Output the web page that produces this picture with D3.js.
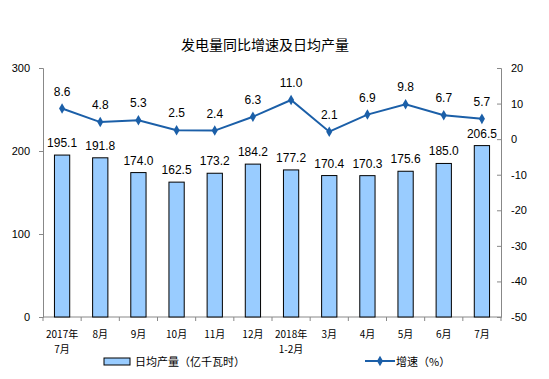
<!DOCTYPE html>
<html>
<head>
<meta charset="utf-8">
<script src="https://cdn.jsdelivr.net/npm/d3@7"></script>
<style>
  body { margin: 0; background: #fff; }
  text { font-family: Arial, "Liberation Sans", sans-serif; fill: #000; }
  .cjk { font-family: "Noto Sans CJK SC", sans-serif; }
</style>
</head>
<body>
<svg width="549" height="379"></svg>
<script>
var months = ['2017年|7月', '8月', '9月', '10月', '11月', '12月', '2018年|1-2月', '3月', '4月', '5月', '6月', '7月'];
var output = [195.1, 191.8, 174.0, 162.5, 173.2, 184.2, 177.2, 170.4, 170.3, 175.6, 185.0, 206.5];
var growth = [8.6, 4.8, 5.3, 2.5, 2.4, 6.3, 11.0, 2.1, 6.9, 9.8, 6.7, 5.7];
var leftTicks = [0, 100, 200, 300];
var rightTicks = [20, 10, 0, -10, -20, -30, -40, -50];

var svg = d3.select('svg');
var plotL = 43, plotR = 501, plotT = 68, plotB = 317;
var lineColor = '#1b5fa8';

var x = d3.scaleBand()
  .domain(d3.range(months.length))
  .range([plotL, plotR])
  .paddingInner(0.6)
  .paddingOuter(0.3);

var yL = d3.scaleLinear().domain([0, 300]).range([plotB, plotT]);
var yR = d3.scaleLinear().domain([-50, 20]).range([plotB, plotT]);

svg.append('text')
  .attr('class', 'cjk')
  .attr('x', 265)
  .attr('y', 50)
  .attr('text-anchor', 'middle')
  .style('font-size', '14px')
  .text('发电量同比增速及日均产量');

// axes
var gL = svg.append('g').attr('transform', 'translate(' + plotL + ',0)')
  .call(d3.axisLeft(yL).tickValues(leftTicks).tickSize(4).tickPadding(9)
    .tickFormat(function(d) { return String(d); }));
var gR = svg.append('g').attr('transform', 'translate(' + plotR + ',0)')
  .call(d3.axisRight(yR).tickValues(rightTicks).tickSize(-4).tickPadding(10)
    .tickFormat(function(d) { return String(d); }));
[gL, gR].forEach(function(g) {
  g.select('.domain').attr('stroke', '#888');
  g.selectAll('.tick line').attr('stroke', '#888');
  g.selectAll('.tick text').style('font-size', '11px').style('font-family', 'Arial, "Liberation Sans", sans-serif');
});

// x axis line with ticks between categories
var step = x.step();
svg.append('line')
  .attr('x1', plotL).attr('x2', plotR)
  .attr('y1', plotB).attr('y2', plotB)
  .attr('stroke', '#888');
svg.selectAll('.xtick')
  .data(d3.range(months.length + 1))
  .enter()
  .append('line')
    .attr('x1', function(i) { return plotL + i * step; })
    .attr('x2', function(i) { return plotL + i * step; })
    .attr('y1', plotB).attr('y2', plotB + 4)
    .attr('stroke', '#888');

// bars
svg.selectAll('.bar')
  .data(output)
  .enter()
  .append('rect')
    .attr('x', function(d, i) { return x(i); })
    .attr('y', function(d) { return yL(d); })
    .attr('width', x.bandwidth())
    .attr('height', function(d) { return plotB - yL(d); })
    .attr('fill', '#99ccff')
    .attr('stroke', '#000')
    .attr('stroke-width', 1);

svg.selectAll('.barlabel')
  .data(output)
  .enter()
  .append('text')
    .attr('x', function(d, i) { return x(i) + x.bandwidth() / 2; })
    .attr('y', function(d) { return yL(d) - 8; })
    .attr('text-anchor', 'middle')
    .style('font-size', '12px')
    .text(function(d) { return d.toFixed(1); });

// line
var line = d3.line()
  .x(function(d, i) { return x(i) + x.bandwidth() / 2; })
  .y(function(d) { return yR(d); });

svg.append('path')
  .datum(growth)
  .attr('d', line)
  .attr('fill', 'none')
  .attr('stroke', lineColor)
  .attr('stroke-width', 2);

svg.selectAll('.pt')
  .data(growth)
  .enter()
  .append('path')
    .attr('d', d3.symbol().type(d3.symbolDiamond).size(32))
    .attr('transform', function(d, i) {
      return 'translate(' + (x(i) + x.bandwidth() / 2) + ',' + yR(d) + ')';
    })
    .attr('fill', lineColor);

svg.selectAll('.ptlabel')
  .data(growth)
  .enter()
  .append('text')
    .attr('x', function(d, i) { return x(i) + x.bandwidth() / 2; })
    .attr('y', function(d) { return yR(d) - 13; })
    .attr('text-anchor', 'middle')
    .style('font-size', '12px')
    .text(function(d) { return d.toFixed(1); });

// category labels
var cats = svg.selectAll('.cat')
  .data(months)
  .enter()
  .append('text')
    .attr('class', 'cjk')
    .attr('text-anchor', 'middle')
    .style('font-size', '10px')
    .attr('transform', function(d, i) {
      return 'translate(' + (x(i) + x.bandwidth() / 2) + ',338)';
    });
cats.each(function(d) {
  var parts = d.split('|');
  var t = d3.select(this);
  parts.forEach(function(p, k) {
    t.append('tspan').attr('x', 0).attr('y', k * 15).text(p);
  });
});

// legend
svg.append('rect')
  .attr('x', 104).attr('y', 358)
  .attr('width', 26).attr('height', 7)
  .attr('fill', '#99ccff').attr('stroke', '#000');
svg.append('text')
  .attr('class', 'cjk')
  .attr('x', 135).attr('y', 366)
  .style('font-size', '11px')
  .text('日均产量（亿千瓦时）');

svg.append('line')
  .attr('x1', 365).attr('x2', 395)
  .attr('y1', 361).attr('y2', 361)
  .attr('stroke', lineColor).attr('stroke-width', 2);
svg.append('path')
  .attr('d', d3.symbol().type(d3.symbolDiamond).size(32))
  .attr('transform', 'translate(380,361)')
  .attr('fill', lineColor);
svg.append('text')
  .attr('class', 'cjk')
  .attr('x', 396).attr('y', 366)
  .style('font-size', '11px')
  .text('增速（%）');
</script>
</body>
</html>
